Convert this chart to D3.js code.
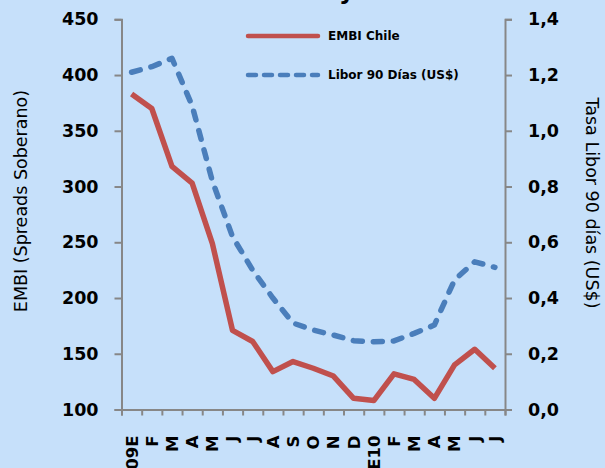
<!DOCTYPE html>
<html>
<head>
<meta charset="utf-8">
<script src="https://cdn.jsdelivr.net/npm/d3@7"></script>
<style>
html,body{margin:0;padding:0;background:#C6E0FA;}
svg{display:block;}
text{font-family:"DejaVu Sans",sans-serif;}
</style>
</head>
<body>
<svg id="chart" width="605" height="468"></svg>
<script>
const months = ["09E","F","M","A","M","J","J","A","S","O","N","D","E10","F","M","A","M","J","J"];
const embi = [383,370,318,303,249,171,161,134,143,137,130,110,108,132,127,110,140,154,137];
const libor = [1.21,1.23,1.26,1.09,0.82,0.62,0.50,0.40,0.31,0.285,0.267,0.247,0.243,0.246,0.273,0.303,0.465,0.53,0.51];
const leftTicks = [100,150,200,250,300,350,400,450];
const rightTicks = [0,0.2,0.4,0.6,0.8,1.0,1.2,1.4];
const seriesNames = ["EMBI Chile","Libor 90 Días (US$)"];
const leftTitle = "EMBI (Spreads Soberano)";
const rightTitle = "Tasa Libor 90 días (US$)";
const chartTitle = "EMBI Chile y Libor";

const svg = d3.select("#chart");
const W = 605, H = 468;
const x0 = 121.5, x1 = 505, yTop = 19.3, yBot = 409.5;
const axisCol = "#878787";
const red = "#C0504D", blue = "#4A7EBB";

svg.append("rect").attr("width",W).attr("height",H).attr("fill","#C6E0FA");

const idx = d3.range(months.length);
const xb = d3.scaleBand().domain(idx).range([x0,x1]);
const xl = d3.scaleLinear().domain([0,months.length]).range([x0,x1]);
const yL = d3.scaleLinear().domain([100,450]).range([yBot,yTop]);
const yR = d3.scaleLinear().domain([0,1.4]).range([yBot,yTop]);
const fmtR = v => d3.format(".1f")(v).replace(".",",");

// title (mostly above the visible area, as in the reference)
const t = svg.append("text").attr("y",-1).attr("font-size",24).attr("font-weight","bold")
  .attr("fill","#000").text(chartTitle);
const yi = chartTitle.indexOf("y");
const px = t.node().getStartPositionOfChar(yi).x;
t.attr("x", 339 - px);

// left axis
const gL = svg.append("g").attr("transform",`translate(${x0},0)`)
  .call(d3.axisLeft(yL).tickValues(leftTicks).tickSize(7).tickPadding(16).tickFormat(d3.format("d")));
// right axis
const gR = svg.append("g").attr("transform",`translate(${x1},0)`)
  .call(d3.axisRight(yR).tickValues(rightTicks).tickSize(7).tickPadding(16).tickFormat(fmtR));
// bottom ticks at boundaries
const gB = svg.append("g").attr("transform",`translate(0,${yBot})`)
  .call(d3.axisBottom(xl).tickValues(d3.range(months.length+1)).tickSize(6).tickFormat(""));
// bottom labels
const gX = svg.append("g").attr("transform",`translate(0,${yBot})`)
  .call(d3.axisBottom(xb).tickSize(0).tickFormat(i => months[i]));
gX.select(".domain").remove();
gX.selectAll(".tick text")
  .attr("transform","rotate(-90)")
  .attr("text-anchor","end")
  .attr("x",-26).attr("y",0).attr("dy","0.36em")
  .attr("font-size",16.5).attr("font-weight","bold").attr("fill","#000");

[gL,gR,gB].forEach(g=>{
  g.selectAll(".domain").attr("stroke",axisCol).attr("stroke-width",2);
  g.selectAll(".tick line").attr("stroke",axisCol).attr("stroke-width",2);
});
[gL,gR].forEach(g=>{
  g.selectAll(".tick text").attr("font-size",17.5).attr("font-weight","bold").attr("fill","#000")
    .attr("font-family","'DejaVu Sans',sans-serif");
});

// axis titles
svg.append("text").attr("transform",`translate(27,201) rotate(-90)`)
  .attr("text-anchor","middle").attr("font-size",17.5).attr("fill","#000").text(leftTitle);
svg.append("text").attr("transform",`translate(586,203) rotate(90)`)
  .attr("text-anchor","middle").attr("font-size",17.5).attr("fill","#000").text(rightTitle);

// lines
const cx = i => xb(i) + xb.bandwidth()/2;
const lineL = d3.line().x((d,i)=>cx(i)).y(d=>yL(d));
const lineR = d3.line().x((d,i)=>cx(i)).y(d=>yR(d));
svg.append("path").datum(libor).attr("d",lineR).attr("fill","none")
  .attr("stroke",blue).attr("stroke-width",5.5).attr("stroke-dasharray","9,11")
  .attr("stroke-linecap","round").attr("stroke-linejoin","round");
svg.append("path").datum(embi).attr("d",lineL).attr("fill","none")
  .attr("stroke",red).attr("stroke-width",5.5).attr("stroke-linejoin","round");

// legend
const lg = svg.append("g");
lg.append("line").attr("x1",248).attr("x2",318).attr("y1",36).attr("y2",36)
  .attr("stroke",red).attr("stroke-width",4.5).attr("stroke-linecap","round");
lg.append("text").attr("x",328).attr("y",36).attr("dy","0.36em").attr("font-size",12)
  .attr("font-weight","bold").attr("fill","#000").text(seriesNames[0]);
lg.append("line").attr("x1",248).attr("x2",318).attr("y1",75).attr("y2",75)
  .attr("stroke",blue).attr("stroke-width",4.5).attr("stroke-dasharray","8,8")
  .attr("stroke-linecap","round");
lg.append("text").attr("x",328).attr("y",75).attr("dy","0.36em").attr("font-size",12)
  .attr("font-weight","bold").attr("fill","#000").text(seriesNames[1]);
</script>
</body>
</html>
